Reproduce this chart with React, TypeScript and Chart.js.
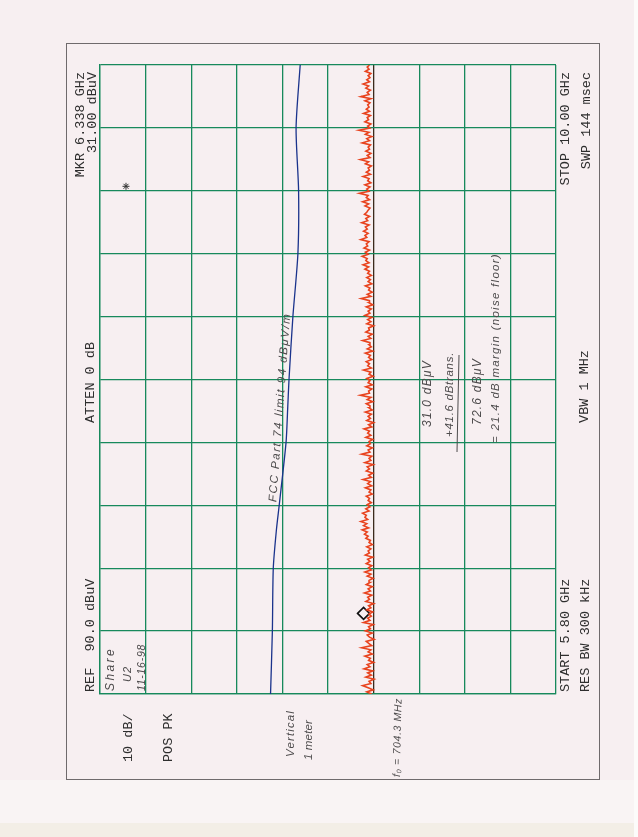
import { useEffect, useRef } from 'react';
import { Chart, registerables } from 'chart.js';

Chart.register(...registerables);

// ---- Analyzer settings ----
const START_GHZ = 5.8;
const STOP_GHZ = 10.0;
const REF_DBUV = 90;
const DB_PER_DIV = 10;
const DIVISIONS = 10;

// ---- Noise-floor trace (dBuV), swept from START to STOP ----
const noiseLevels: number[] = [
  30.4, 31.5, 30.1, 31.2, 32.4, 30.6, 31.0, 29.9, 31.7, 30.5, 31.3, 30.2, 32.1, 30.8, 31.4, 30.0, 31.1, 30.7, 31.9, 30.3,
  31.2, 30.6, 32.6, 30.4, 31.0, 31.6, 29.9, 30.9, 31.4, 30.3, 31.8, 30.7, 31.1, 30.1, 32.2, 30.8, 31.3, 30.5, 31.0, 30.2,
  31.5, 30.6, 31.1, 30.0, 31.7, 30.9, 31.3, 30.4, 32.0, 30.7, 31.2, 30.3, 31.6, 30.8, 31.0, 30.1, 31.4, 30.6, 31.9, 30.5,
  31.1, 30.4, 31.6, 30.8, 31.3, 30.2, 31.8, 30.9, 31.2, 30.6, 31.5, 30.3, 31.0, 30.7, 31.7, 31.2, 32.0, 31.4, 32.5, 31.1,
  32.2, 31.5, 32.8, 31.3, 31.9, 31.6, 32.4, 31.0, 31.7, 30.8, 31.4, 30.5, 31.2, 30.9, 31.6, 30.3, 31.0, 30.6, 31.8, 30.4,
  31.3, 30.7, 32.3, 30.5, 31.1, 30.2, 31.6, 30.9, 31.4, 30.1, 31.9, 30.6, 31.0, 30.4, 32.6, 30.8, 31.2, 30.3, 31.5, 30.7,
  31.0, 30.2, 31.7, 30.6, 31.3, 30.9, 32.1, 30.4, 31.1, 30.0, 31.5, 30.7, 31.2, 30.5, 31.8, 30.3, 31.0, 30.8, 31.6, 30.2,
  31.4, 30.6, 32.9, 30.9, 31.1, 30.4, 31.7, 30.3, 31.2, 30.8, 31.5, 30.1, 31.0, 30.6, 32.2, 30.5, 31.3, 30.9, 31.6, 30.4,
  31.1, 30.7, 31.8, 30.2, 31.4, 30.5, 31.0, 30.8, 32.4, 30.6, 31.2, 30.3, 31.7, 30.9, 31.1, 30.0, 31.5, 30.6, 31.3, 30.4,
  31.9, 30.8, 31.2, 30.5, 31.6, 30.2, 31.0, 30.9, 32.7, 30.6, 31.4, 30.3, 31.1, 30.8, 31.8, 30.4, 31.2, 30.7, 31.5, 30.5,
  31.3, 30.9, 31.9, 31.1, 32.3, 31.0, 31.7, 31.4, 32.5, 31.2, 31.8, 30.9, 32.1, 31.3, 31.6, 31.0, 32.8, 31.5, 31.9, 31.2,
  32.2, 31.4, 31.8, 31.0, 32.6, 31.3, 31.7, 30.9, 32.0, 31.5, 31.2, 30.8, 31.9, 31.1, 32.4, 30.9, 31.6, 31.2, 33.1, 31.0,
  31.5, 30.8, 31.9, 30.6, 31.3, 31.0, 32.3, 30.7, 31.6, 30.9, 31.2, 30.5, 31.8, 31.1, 32.9, 30.8, 31.4, 30.6, 31.7, 30.9,
  31.2, 30.7, 32.5, 30.9, 31.5, 30.4, 31.8, 31.0, 33.2, 30.8, 31.3, 30.6, 31.9, 31.1, 31.4, 30.7, 32.2, 30.9, 31.6, 31.0,
  31.3, 30.8, 31.9, 30.6, 32.8, 31.0, 31.4, 30.7, 31.7, 31.1, 32.3, 30.9, 31.5, 30.8, 31.2, 30.6, 31.8, 31.0, 31.4, 30.9,
];

// ---- FCC Part 74 limit line (dBuV at analyzer input) ----
const limitFreqs: number[] = [5.80, 6.22, 6.64, 6.90, 7.06, 7.48, 7.70, 7.90, 8.32, 8.74, 9.16, 9.58, 10.0];
const limitLevels: number[] = [52.6, 52.2, 52.0, 51.3, 50.7, 49.2, 48.85, 48.55, 47.7, 46.6, 46.45, 47.0, 46.1];

// ---- Marker symbols ----
const markerFreq = [6.338];
const markerLevel = [32.2];
const starFreq = [9.19];
const starLevel = [84.3];

// ---- Plotter annotation text ----
const refLabel = 'REF  90.0 dBuV';
const attenLabel = 'ATTEN 0 dB';
const mkrLabels = ['MKR 6.338 GHz', '31.00 dBuV'];
const startLabels = ['START 5.80 GHz', 'RES BW 300 kHz'];
const vbwLabel = 'VBW 1 MHz';
const stopLabels = ['STOP 10.00 GHz', 'SWP 144 msec'];
const scaleLabels = ['10 dB/', 'POS PK'];

// ---- Handwritten notes ----
const idNotes = ['Share', 'U2', '11-16-98'];
const antennaNotes = ['Vertical', '1 meter'];
const freqNote = 'f\u2080 = 704.3 MHz';
const limitNote = 'FCC Part 74 limit 94 dB\u03bcV/m';
const calcNotes = ['31.0 dB\u03bcV', '+41.6 dBtrans.', '72.6 dB\u03bcV', '= 21.4 dB margin (noise floor)'];

const MONO = '13.5px "Liberation Mono", "DejaVu Sans Mono", monospace';
const HAND_FAMILY = '"Liberation Sans", "DejaVu Sans", sans-serif';
const INK = '#2e2e2e';
const PEN = '#4d4b4c';
const GRID = '#17895c';

function vtext(
  ctx: CanvasRenderingContext2D,
  s: string,
  x: number,
  y: number,
  align: CanvasTextAlign,
  font: string,
  color: string,
  tilt = 0,
  spacing = 0,
) {
  ctx.save();
  ctx.translate(x, y);
  ctx.rotate(-Math.PI / 2 + tilt);
  ctx.font = font;
  ctx.fillStyle = color;
  ctx.textAlign = align;
  ctx.textBaseline = 'middle';
  if (spacing > 0) (ctx as any).letterSpacing = `${spacing.toFixed(2)}px`;
  ctx.fillText(s, 0, 0);
  ctx.restore();
}

// handwritten note: fixed size, letter spacing stretched so the note spans `len` pixels
function hand(ctx: CanvasRenderingContext2D, s: string, x: number, y: number, px: number, len: number, tilt = 0) {
  const font = `italic ${px}px ${HAND_FAMILY}`;
  ctx.save();
  ctx.font = font;
  const w = ctx.measureText(s).width;
  ctx.restore();
  const spacing = Math.max(0, (len - w) / s.length);
  vtext(ctx, s, x, y, 'left', font, PEN, tilt, spacing);
}

const paperPlugin = {
  id: 'paper',
  beforeDraw(chart: any) {
    const { ctx, width, height } = chart;
    ctx.save();
    ctx.fillStyle = '#f7eff1';
    ctx.fillRect(0, 0, width, height);
    ctx.fillStyle = '#f9f4f4';
    ctx.fillRect(0, 780, width, 44);
    ctx.fillStyle = '#f3eee6';
    ctx.fillRect(0, 823, width, height - 823);
    ctx.fillStyle = '#fcfbfa';
    ctx.fillRect(634, 0, width - 634, height);
    ctx.strokeStyle = '#6f6a6c';
    ctx.lineWidth = 1;
    ctx.strokeRect(66.5, 43.5, 533, 736);
    ctx.restore();
  },
  afterDraw(chart: any) {
    const { ctx, chartArea: ca } = chart;
    const L = ca.left, T = ca.top, B = ca.bottom, R = ca.right;
    const midY = (T + B) / 2;
    // plotter text
    vtext(ctx, refLabel, L - 10, B - 2, 'left', MONO, INK);
    vtext(ctx, attenLabel, L - 10, midY + 3, 'center', MONO, INK);
    vtext(ctx, mkrLabels[0], L - 20, T + 7, 'right', MONO, INK);
    vtext(ctx, mkrLabels[1], L - 8, T + 7, 'right', MONO, INK);
    vtext(ctx, startLabels[0], R + 9.5, B - 2, 'left', MONO, INK);
    vtext(ctx, startLabels[1], R + 29.5, B - 2, 'left', MONO, INK);
    vtext(ctx, vbwLabel, R + 28, midY + 7, 'center', MONO, INK);
    vtext(ctx, stopLabels[0], R + 9.5, T + 7, 'right', MONO, INK);
    vtext(ctx, stopLabels[1], R + 30.5, T + 7, 'right', MONO, INK);
    vtext(ctx, scaleLabels[0], L + 28, B + 68, 'left', MONO, INK);
    vtext(ctx, scaleLabels[1], L + 68, B + 68, 'left', MONO, INK);

    // handwriting
    hand(ctx, idNotes[0], L + 11, B - 3, 12, 44);
    hand(ctx, idNotes[1], L + 28, B - 12, 11, 16);
    hand(ctx, idNotes[2], L + 42, B - 3, 10.5, 47);
    hand(ctx, antennaNotes[0], L + 191, B + 63, 11.5, 47);
    hand(ctx, antennaNotes[1], L + 209, B + 66, 11.5, 40);
    hand(ctx, freqNote, L + 297, B + 83, 10.5, 79, 0.02);
    hand(ctx, limitNote, L + 173, B - 192, 11.5, 190, 0.074);
    hand(ctx, calcNotes[0], L + 328, B - 267, 12, 67);
    hand(ctx, calcNotes[1], L + 350, B - 257, 11.5, 85);
    hand(ctx, calcNotes[2], L + 378, B - 269, 12, 67);
    hand(ctx, calcNotes[3], L + 396, B - 251, 11.5, 190);
    ctx.save();
    ctx.strokeStyle = PEN;
    ctx.lineWidth = 1;
    ctx.beginPath();
    ctx.moveTo(L + 357, B - 242);
    ctx.lineTo(L + 359, B - 339);
    ctx.stroke();
    ctx.restore();
  },
};

export default function App() {
  const ref = useRef<HTMLCanvasElement | null>(null);

  useEffect(() => {
    if (!ref.current) return;
    const n = noiseLevels.length;
    const noise = noiseLevels.map((v, i) => ({
      x: v,
      y: START_GHZ + (i * (STOP_GHZ - START_GHZ)) / (n - 1),
    }));
    const limit = limitLevels.map((v, i) => ({ x: v, y: limitFreqs[i] }));
    const marker = markerLevel.map((v, i) => ({ x: v, y: markerFreq[i] }));
    const star = starLevel.map((v, i) => ({ x: v, y: starFreq[i] }));
    const bottomDb = REF_DBUV - DB_PER_DIV * DIVISIONS;

    const chart = new Chart(ref.current, {
      type: 'scatter',
      data: {
        datasets: [
          {
            label: 'FCC limit',
            data: limit,
            showLine: true,
            borderColor: '#1a338c',
            borderWidth: 1.3,
            pointRadius: 0,
            tension: 0.25,
          },
          {
            label: 'Trace',
            data: noise,
            showLine: true,
            borderColor: '#e8431e',
            borderWidth: 1.6,
            pointRadius: 0,
            tension: 0,
          },
          {
            label: 'Marker',
            data: marker,
            pointStyle: 'rectRot',
            pointRadius: 6,
            borderColor: '#111',
            borderWidth: 1.6,
            backgroundColor: 'rgba(0,0,0,0)',
          },
          {
            label: 'Star',
            data: star,
            pointStyle: 'star',
            pointRadius: 3.5,
            borderColor: '#333',
            borderWidth: 1,
          },
        ],
      },
      options: {
        responsive: false,
        animation: false,
        events: [],
        layout: { padding: { left: 100, top: 65, right: 82, bottom: 143 } },
        plugins: { legend: { display: false }, tooltip: { enabled: false } },
        scales: {
          x: {
            type: 'linear',
            min: bottomDb,
            max: REF_DBUV,
            reverse: true,
            z: 1,
            ticks: { display: false, stepSize: DB_PER_DIV },
            grid: {
              drawTicks: false,
              lineWidth: 1.3,
              color: (c: any) => (c.tick && c.tick.value === 30 ? '#3b2a1c' : GRID),
            },
            border: { display: true, color: GRID, width: 1.3 },
          },
          y: {
            type: 'linear',
            min: START_GHZ,
            max: STOP_GHZ,
            afterBuildTicks: (scale: any) => {
              const step = (STOP_GHZ - START_GHZ) / DIVISIONS;
              scale.ticks = Array.from({ length: DIVISIONS + 1 }, (_, i) => ({ value: START_GHZ + i * step }));
            },
            ticks: { display: false },
            grid: { drawTicks: false, lineWidth: 1.3, color: GRID },
            border: { display: true, color: GRID, width: 1.3 },
          },
        },
      },
      plugins: [paperPlugin],
    });
    return () => chart.destroy();
  }, []);

  return (
    <div style={{ position: 'absolute', left: 0, top: 0, width: 638, height: 837 }}>
      <canvas ref={ref} width={638} height={837} style={{ display: 'block', width: 638, height: 837 }} />
    </div>
  );
}
